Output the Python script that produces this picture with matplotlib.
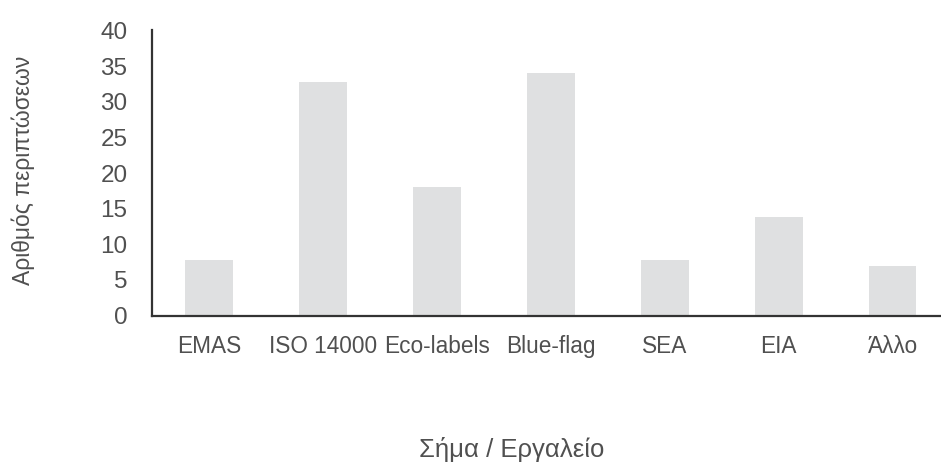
"""Bar chart: αριθμός περιπτώσεων ανά σήμα / εργαλείο."""

import matplotlib
matplotlib.use("Agg")
import matplotlib.pyplot as plt

plt.rcParams["font.family"] = ["Liberation Sans", "DejaVu Sans"]

CATEGORIES = ["EMAS", "ISO 14000", "Eco-labels", "Blue-flag", "SEA", "EIA", "Άλλο"]
COUNTS = [7.8, 32.8, 18, 34, 7.8, 13.8, 7]
Y_TICKS = [0, 5, 10, 15, 20, 25, 30, 35, 40]

BAR_COLOR = "#dfe0e1"
TEXT_COLOR = "#505050"
SPINE_COLOR = "#333333"
W, H = 941, 462


def main() -> None:
    fig = plt.figure(figsize=(W / 100, H / 100), dpi=100)
    ax = fig.add_axes((0.162, 0.317, 0.847, 0.617))

    x = range(len(CATEGORIES))
    ax.bar(x, COUNTS, width=0.42, color=BAR_COLOR)

    ax.set_xlim(-0.5, 6.5)
    ax.set_ylim(0, 40)
    ax.set_yticks(Y_TICKS)
    ax.set_xticks(list(x))
    ax.set_xticklabels(CATEGORIES)

    for side in ("top", "right"):
        ax.spines[side].set_visible(False)
    for side in ("left", "bottom"):
        ax.spines[side].set_color(SPINE_COLOR)
        ax.spines[side].set_linewidth(1.6)

    ax.tick_params(axis="both", length=0, colors=TEXT_COLOR)
    ax.tick_params(axis="y", pad=18, labelsize=17.5)
    ax.tick_params(axis="x", pad=14, labelsize=16.3)

    # axis titles placed in figure pixels to match the reference layout
    fig.text(23 / W, 1 - 170 / H, "Αριθμός περιπτώσεων", rotation=90,
             ha="center", va="center", fontsize=16.5, color=TEXT_COLOR)
    fig.text(512 / W, 1 - 457 / H, "Σήμα / Εργαλείο",
             ha="center", va="baseline", fontsize=18.5, color=TEXT_COLOR)

    fig.savefig("out.png", dpi=100)
    plt.close(fig)


if __name__ == "__main__":
    main()
